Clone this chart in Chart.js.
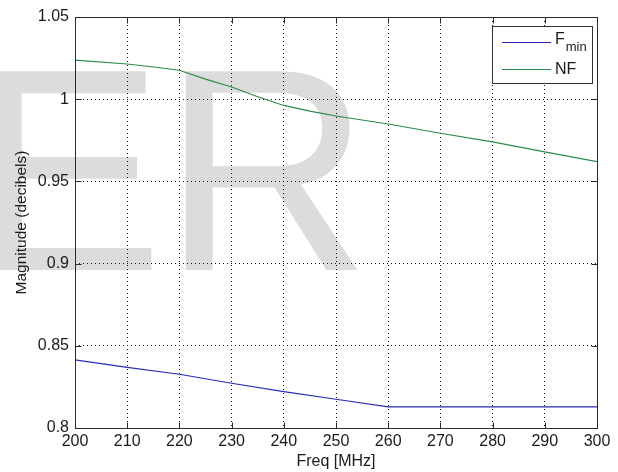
<!DOCTYPE html>
<html>
<head>
<meta charset="utf-8">
<script src="https://cdn.jsdelivr.net/npm/chart.js@4/dist/chart.umd.min.js"></script>
<style>
  html, body { margin: 0; padding: 0; background: #ffffff; }
  #wrap { width: 618px; height: 472px; position: relative; }
</style>
</head>
<body>
<div id="wrap"><canvas id="c" width="618" height="472"></canvas></div>
<script>
// ---- data ----
const freqNF = [200, 210, 215, 220, 225, 230, 235, 240, 245, 250, 260, 270, 280, 290, 300];
const nfValues = [1.0238, 1.0214, 1.0196, 1.0176, 1.0122, 1.0074, 1.0015, 0.9962, 0.9928, 0.9898, 0.9849, 0.9793, 0.9740, 0.9680, 0.9620];
const freqFmin = [200, 210, 220, 230, 240, 250, 260, 270, 280, 290, 300];
const fminValues = [0.8414, 0.8369, 0.8327, 0.8272, 0.8221, 0.8175, 0.8128, 0.8128, 0.8128, 0.8128, 0.8128];
const seriesNames = ['Fmin', 'NF'];
const legendMain = ['F', 'NF'];
const legendSub = ['min', ''];
const xTitle = 'Freq [MHz]';
const yTitle = 'Magnitude (decibels)';
const watermark = ['E', 'R'];

const FONT = "'Liberation Sans', Arial, Helvetica, sans-serif";

const bgPlugin = {
  id: 'bg',
  beforeDraw(chart) {
    const ctx = chart.ctx;
    ctx.save();
    ctx.fillStyle = '#ffffff';
    ctx.fillRect(0, 0, chart.width, chart.height);
    ctx.fillStyle = '#dcdcdc';
    ctx.font = '289px ' + FONT;
    ctx.textBaseline = 'alphabetic';
    ctx.textAlign = 'left';
    ctx.fillText(watermark[0], -29, 270);
    ctx.fillText(watermark[1], 162, 270);
    ctx.restore();
  }
};

const boxPlugin = {
  id: 'box',
  afterDatasetsDraw(chart) {
    const ctx = chart.ctx;
    const a = chart.chartArea;
    const xs = chart.scales.x, ys = chart.scales.y;
    ctx.save();
    ctx.strokeStyle = '#2a2a2a';
    ctx.lineWidth = 1;
    const L = Math.round(a.left) + 0.5, R = Math.round(a.right) + 0.5;
    const T = Math.round(a.top) + 0.5, B = Math.round(a.bottom) + 0.5;
    ctx.strokeRect(L, T, R - L, B - T);
    const tl = 6;
    ctx.beginPath();
    xs.ticks.forEach(t => {
      const px = Math.round(xs.getPixelForValue(t.value)) + 0.5;
      ctx.moveTo(px, B); ctx.lineTo(px, B - tl);
      ctx.moveTo(px, T); ctx.lineTo(px, T + tl);
    });
    ys.ticks.forEach(t => {
      const py = Math.round(ys.getPixelForValue(t.value)) + 0.5;
      ctx.moveTo(L, py); ctx.lineTo(L + tl, py);
      ctx.moveTo(R, py); ctx.lineTo(R - tl, py);
    });
    ctx.stroke();

    // legend box (MATLAB style, inside top-right)
    const lx = 492.5, ly = 26.5, lw = 100, lh = 57;
    ctx.fillStyle = '#ffffff';
    ctx.fillRect(lx, ly, lw, lh);
    ctx.strokeStyle = '#333333';
    ctx.strokeRect(lx, ly, lw, lh);
    const rows = [42.5, 69.5];
    chart.data.datasets.forEach((ds, i) => {
      const y = rows[i];
      ctx.strokeStyle = ds.borderColor;
      ctx.lineWidth = 1;
      ctx.beginPath();
      ctx.moveTo(502, y); ctx.lineTo(551, y);
      ctx.stroke();
      ctx.fillStyle = '#1a1a1a';
      ctx.textAlign = 'left';
      ctx.textBaseline = 'middle';
      ctx.font = '16px ' + FONT;
      const main = legendMain[i];
      ctx.fillText(main, 555, y - (legendSub[i] ? 3 : 0));
      if (legendSub[i]) {
        const w = ctx.measureText(main).width;
        ctx.font = '13px ' + FONT;
        ctx.fillText(legendSub[i], 555 + w + 1, y + 5);
      }
    });
    ctx.restore();
  }
};

const chart = new Chart(document.getElementById('c'), {
  type: 'line',
  data: {
    datasets: [
      {
        label: seriesNames[0],
        data: freqFmin.map((f, i) => ({ x: f, y: fminValues[i] })),
        borderColor: '#2a2ab4',
        borderWidth: 1.2,
        pointRadius: 0,
        tension: 0,
        fill: false
      },
      {
        label: seriesNames[1],
        data: freqNF.map((f, i) => ({ x: f, y: nfValues[i] })),
        borderColor: '#2b8a48',
        borderWidth: 1.2,
        pointRadius: 0,
        tension: 0,
        fill: false
      }
    ]
  },
  options: {
    responsive: false,
    animation: false,
    devicePixelRatio: 1,
    layout: { padding: { top: 17, right: 21, left: 0, bottom: 0 } },
    plugins: {
      legend: { display: false },
      tooltip: { enabled: false }
    },
    scales: {
      x: {
        type: 'linear',
        min: 200, max: 300,
        afterFit(s) { s.height = 44; },
        ticks: {
          stepSize: 10,
          padding: 4,
          color: '#1a1a1a',
          font: { family: FONT, size: 16 },
          maxRotation: 0,
          autoSkip: false
        },
        grid: {
          color: '#111111',
          lineWidth: 1,
          drawTicks: false
        },
        border: { display: false, dash: [1, 3] },
        title: {
          display: true,
          text: xTitle,
          color: '#1a1a1a',
          font: { family: FONT, size: 16 },
          padding: { top: 0, bottom: 1 }
        }
      },
      y: {
        type: 'linear',
        min: 0.8, max: 1.05,
        afterFit(s) { s.width = 75; },
        ticks: {
          stepSize: 0.05,
          padding: 6,
          color: '#1a1a1a',
          font: { family: FONT, size: 16 },
          callback: v => String(Number(v.toFixed(2)))
        },
        grid: {
          color: '#111111',
          lineWidth: 1,
          drawTicks: false
        },
        border: { display: false, dash: [1, 3] },
        title: {
          display: true,
          text: yTitle,
          color: '#1a1a1a',
          font: { family: FONT, size: 15.5 },
          padding: { top: 12, bottom: 0 }
        }
      }
    }
  },
  plugins: [bgPlugin, boxPlugin]
});
</script>
</body>
</html>
